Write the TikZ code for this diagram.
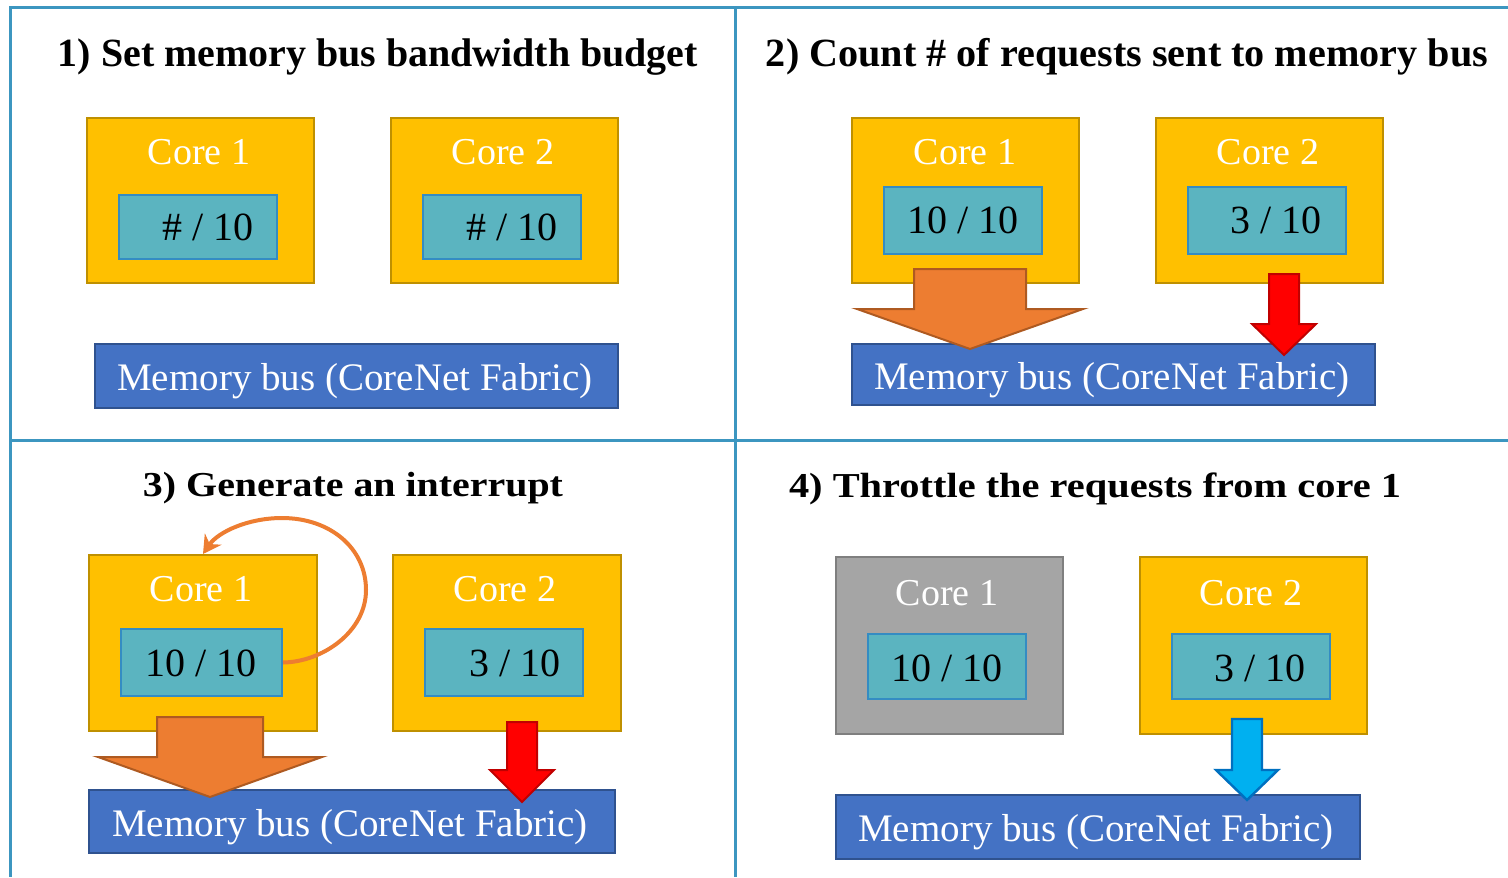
\documentclass[tikz,border=0pt]{standalone}
\usepackage{fontspec}
\setmainfont{Liberation Serif}
\usepackage{graphicx}
\usetikzlibrary{fit,arrows.meta}

\definecolor{gridblue}{RGB}{60,150,192}
\definecolor{corefill}{RGB}{255,192,0}
\definecolor{coreline}{RGB}{191,144,0}
\definecolor{idlefill}{RGB}{165,165,165}
\definecolor{idleline}{RGB}{127,127,127}
\definecolor{cntfill}{RGB}{91,180,192}
\definecolor{cntline}{RGB}{52,140,195}
\definecolor{busfill}{RGB}{68,114,196}
\definecolor{busline}{RGB}{47,82,143}
\definecolor{hotfill}{RGB}{237,125,49}
\definecolor{hotline}{RGB}{174,90,33}
\definecolor{redfill}{RGB}{255,0,0}
\definecolor{redline}{RGB}{192,0,0}
\definecolor{coolfill}{RGB}{0,176,240}
\definecolor{coolline}{RGB}{0,112,192}

% block arrow: centre x, top y, shaft half width, head y, head half width, tip y
\newcommand\blockarrow[7]{%
  \draw[#1] ({#2-#4},#3) -- ({#2+#4},#3) -- ({#2+#4},#5) -- ({#2+#6},#5)
    -- (#2,#7) -- ({#2-#6},#5) -- ({#2-#4},#5) -- cycle;}

\begin{document}
\begin{tikzpicture}[x=0.5pt,y=-0.5pt,
  grid/.style={draw=gridblue,line width=1.5pt},
  core/.style={draw=coreline,fill=corefill,line width=1pt,inner sep=0pt},
  idle/.style={draw=idleline,fill=idlefill,line width=1pt,inner sep=0pt},
  counter/.style={draw=cntline,fill=cntfill,line width=1pt,inner sep=0pt},
  bus/.style={draw=busline,fill=busfill,line width=1pt,inner sep=0pt},
  lbl/.style={anchor=base,inner sep=0pt,text=white,font=\fontsize{19}{23}\selectfont},
  num/.style={anchor=base,inner sep=0pt,text=black,font=\fontsize{20}{24}\selectfont},
  buslbl/.style={anchor=base,inner sep=0pt,text=white,font=\fontsize{19.5}{23}\selectfont},
  toptitle/.style={anchor=base,inner sep=0pt,font=\bfseries\fontsize{20}{24}\selectfont},
  bottitle/.style={anchor=base,inner sep=0pt,font=\bfseries\fontsize{17.5}{21}\selectfont},
  hot/.style={draw=hotline,fill=hotfill,line width=1pt,line join=miter},
  red/.style={draw=redline,fill=redfill,line width=1pt,line join=miter},
  cool/.style={draw=coolline,fill=coolfill,line width=1.2pt,line join=miter},
  interrupt/.style={draw=hotfill,line width=2pt,-{Stealth[length=9pt,width=10pt,inset=3pt]}}]

\useasboundingbox (0,0) rectangle (1508,877);

% panel grid
\draw[grid] (1508,8) -- (10,8) -- (10,877);
\draw[grid] (735,8) -- (735,877);
\draw[grid] (10,440) -- (1508,440);

% ---------- panel 1 ----------
\node[toptitle] (ti1) at (378,67) {\resizebox{320pt}{\height}{1) Set memory bus bandwidth budget}};
\node[core,fit={(87,118) (314,283)}] (c1a) {};
\node[core,fit={(391,118) (618,283)}] (c1b) {};
\node[counter,fit={(119,195) (277,259)}] (n1a) {};
\node[counter,fit={(423,195) (581,259)}] (n1b) {};
\node[bus,fit={(95,344) (618,408)}] (b1) {};
\node[lbl] (l1a) at (199,165) {Core 1};
\node[lbl] (l1b) at (503,165) {Core 2};
\node[num] (v1a) at (208,241) {\# / 10};
\node[num] (v1b) at (512,241) {\# / 10};
\node[buslbl] (t1) at (355,390) {Memory bus (CoreNet Fabric)};

% ---------- panel 2 ----------
\node[toptitle] (ti2) at (1127,67) {\resizebox{361pt}{\height}{2) Count \# of requests sent to memory bus}};
\node[core,fit={(852,118) (1079,283)}] (c2a) {};
\node[core,fit={(1156,118) (1383,283)}] (c2b) {};
\node[counter,fit={(884,187) (1042,254)}] (n2a) {};
\node[counter,fit={(1188,187) (1346,254)}] (n2b) {};
\node[bus,fit={(852,344) (1375,405)}] (b2) {};
\node[lbl] (l2a) at (965,165) {Core 1};
\node[lbl] (l2b) at (1268,165) {Core 2};
\node[num] (v2a) at (963,234) {10 / 10};
\node[num] (v2b) at (1276,234) {3 / 10};
\node[buslbl] (t2) at (1112,389) {Memory bus (CoreNet Fabric)};
\blockarrow{hot}{970}{269}{56}{309}{113}{349}
\blockarrow{red}{1284}{274}{15}{324}{32}{355}

% ---------- panel 3 ----------
\node[bottitle] (ti3) at (353,496) {\resizebox{210pt}{\height}{3) Generate an interrupt}};
\node[core,fit={(89,555) (317,731)}] (c3a) {};
\node[core,fit={(393,555) (621,731)}] (c3b) {};
\node[counter,fit={(121,629) (282,696)}] (n3a) {};
\node[counter,fit={(425,629) (583,696)}] (n3b) {};
\node[bus,fit={(89,790) (615,853)}] (b3) {};
\node[lbl] (l3a) at (201,601) {Core 1};
\node[lbl] (l3b) at (505,601) {Core 2};
\node[num] (v3a) at (201,676) {10 / 10};
\node[num] (v3b) at (515,676) {3 / 10};
\node[buslbl] (t3) at (350,836) {Memory bus (CoreNet Fabric)};
\blockarrow{hot}{210}{717}{53}{757}{112}{797}
\blockarrow{red}{522}{722}{15}{770}{32}{802}
\draw[interrupt] (n3a.east) .. controls (322,662) and (366,632) .. (366,590)
  .. controls (366,548) and (330,518) .. (282,518)
  .. controls (248,518) and (218,532) .. (c3a.north);

% ---------- panel 4 ----------
\node[bottitle] (ti4) at (1095,497) {\resizebox{306pt}{\height}{4) Throttle the requests from core 1}};
\node[idle,fit={(836,557) (1063,734)}] (c4a) {};
\node[core,fit={(1140,557) (1367,734)}] (c4b) {};
\node[counter,fit={(868,634) (1026,699)}] (n4a) {};
\node[counter,fit={(1172,634) (1330,699)}] (n4b) {};
\node[bus,fit={(836,795) (1360,859)}] (b4) {};
\node[lbl] (l4a) at (947,605) {Core 1};
\node[lbl] (l4b) at (1251,605) {Core 2};
\node[num] (v4a) at (947,681) {10 / 10};
\node[num] (v4b) at (1260,681) {3 / 10};
\node[buslbl] (t4) at (1096,841) {Memory bus (CoreNet Fabric)};
\blockarrow{cool}{1247}{719}{15}{770}{31}{800}

\end{tikzpicture}
\end{document}
